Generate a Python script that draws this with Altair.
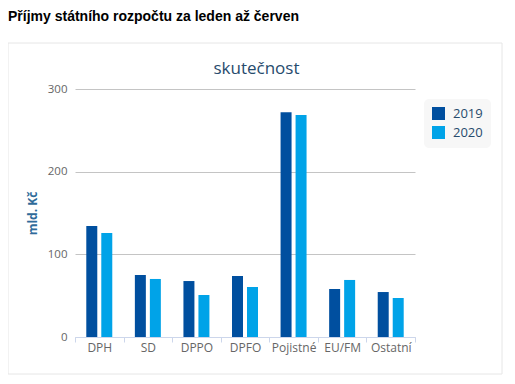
import altair as alt
import pandas as pd

categories = ["DPH", "SD", "DPPO", "DPFO", "Pojistné", "EU/FM", "Ostatní"]
years = ["2019", "2020"]
values_2019 = [134.3, 75.0, 67.7, 73.8, 272.0, 58.0, 54.4]
values_2020 = [125.8, 70.2, 50.8, 60.5, 268.5, 69.0, 47.2]
y_ticks = [0, 100, 200, 300]

rows = []
for c, a, b in zip(categories, values_2019, values_2020):
    rows.append({"kat": c, "rok": years[0], "v": a})
    rows.append({"kat": c, "rok": years[1], "v": b})
df = pd.DataFrame(rows)
one = pd.DataFrame({"a": [1]})

box = alt.Chart(one).mark_rect(fillOpacity=0, stroke="#e6e6e6", strokeWidth=1).encode(
    x=alt.value(-67), x2=alt.value(427), y=alt.value(-46), y2=alt.value(285)
)

bars = alt.Chart(df).mark_bar().encode(
    x=alt.X("kat:N", sort=categories, title=None,
            scale=alt.Scale(paddingInner=0, paddingOuter=0),
            axis=alt.Axis(labelAngle=0, tickBand="extent", tickSize=5,
                          domainColor="#ccd6eb", tickColor="#ccd6eb",
                          labelFont="Open Sans", labelFontSize=12,
                          labelColor="#666666", labelPadding=0, grid=False)),
    xOffset=alt.XOffset("rok:N", sort=years,
                        scale=alt.Scale(paddingInner=0.267, paddingOuter=0.753)),
    y=alt.Y("v:Q", title="mld. Kč",
            scale=alt.Scale(domain=[0, 300], nice=False),
            axis=alt.Axis(values=y_ticks, domain=False, ticks=False,
                          grid=True, gridColor="#c4c4c4",
                          labelFont="Open Sans", labelFontSize=11.5,
                          labelColor="#666666", labelPadding=8,
                          titleFont="Open Sans", titleFontSize=12,
                          titleFontWeight="bold", titleColor="#2f6b9a",
                          titleX=-43, titleY=124, titleAngle=270,
                          titleAlign="center", titleBaseline="middle")),
    color=alt.Color("rok:N", sort=years,
                    scale=alt.Scale(domain=years, range=["#004f9f", "#00a3e8"]),
                    legend=alt.Legend(title=None, orient="none", legendX=349, legendY=10,
                                      fillColor="#f7f7f7", cornerRadius=5, padding=8,
                                      symbolType="square", symbolSize=169,
                                      symbolStrokeWidth=0, labelOffset=8,
                                      labelFont="Open Sans", labelFontSize=13,
                                      labelColor="#274b6d", rowPadding=5)),
)

heading = alt.Chart(one).mark_text(
    text="Příjmy státního rozpočtu za leden až červen", align="left", baseline="alphabetic",
    font="Liberation Sans", fontSize=14, fontWeight="bold", color="#000000"
).encode(x=alt.value(-67), y=alt.value(-68))

subtitle = alt.Chart(one).mark_text(
    text="skutečnost", align="center", baseline="alphabetic",
    font="Open Sans", fontSize=17, color="#274b6d"
).encode(x=alt.value(181.5), y=alt.value(-15))

chart = alt.layer(box, bars, heading, subtitle).properties(
    width=340, height=248,
    autosize=alt.AutoSizeParams(type="none"),
    padding={"left": 67, "top": 81, "right": 92, "bottom": 39},
).configure_view(stroke=None)

chart.save("out.html", embed_options={"renderer": "svg", "actions": False})
